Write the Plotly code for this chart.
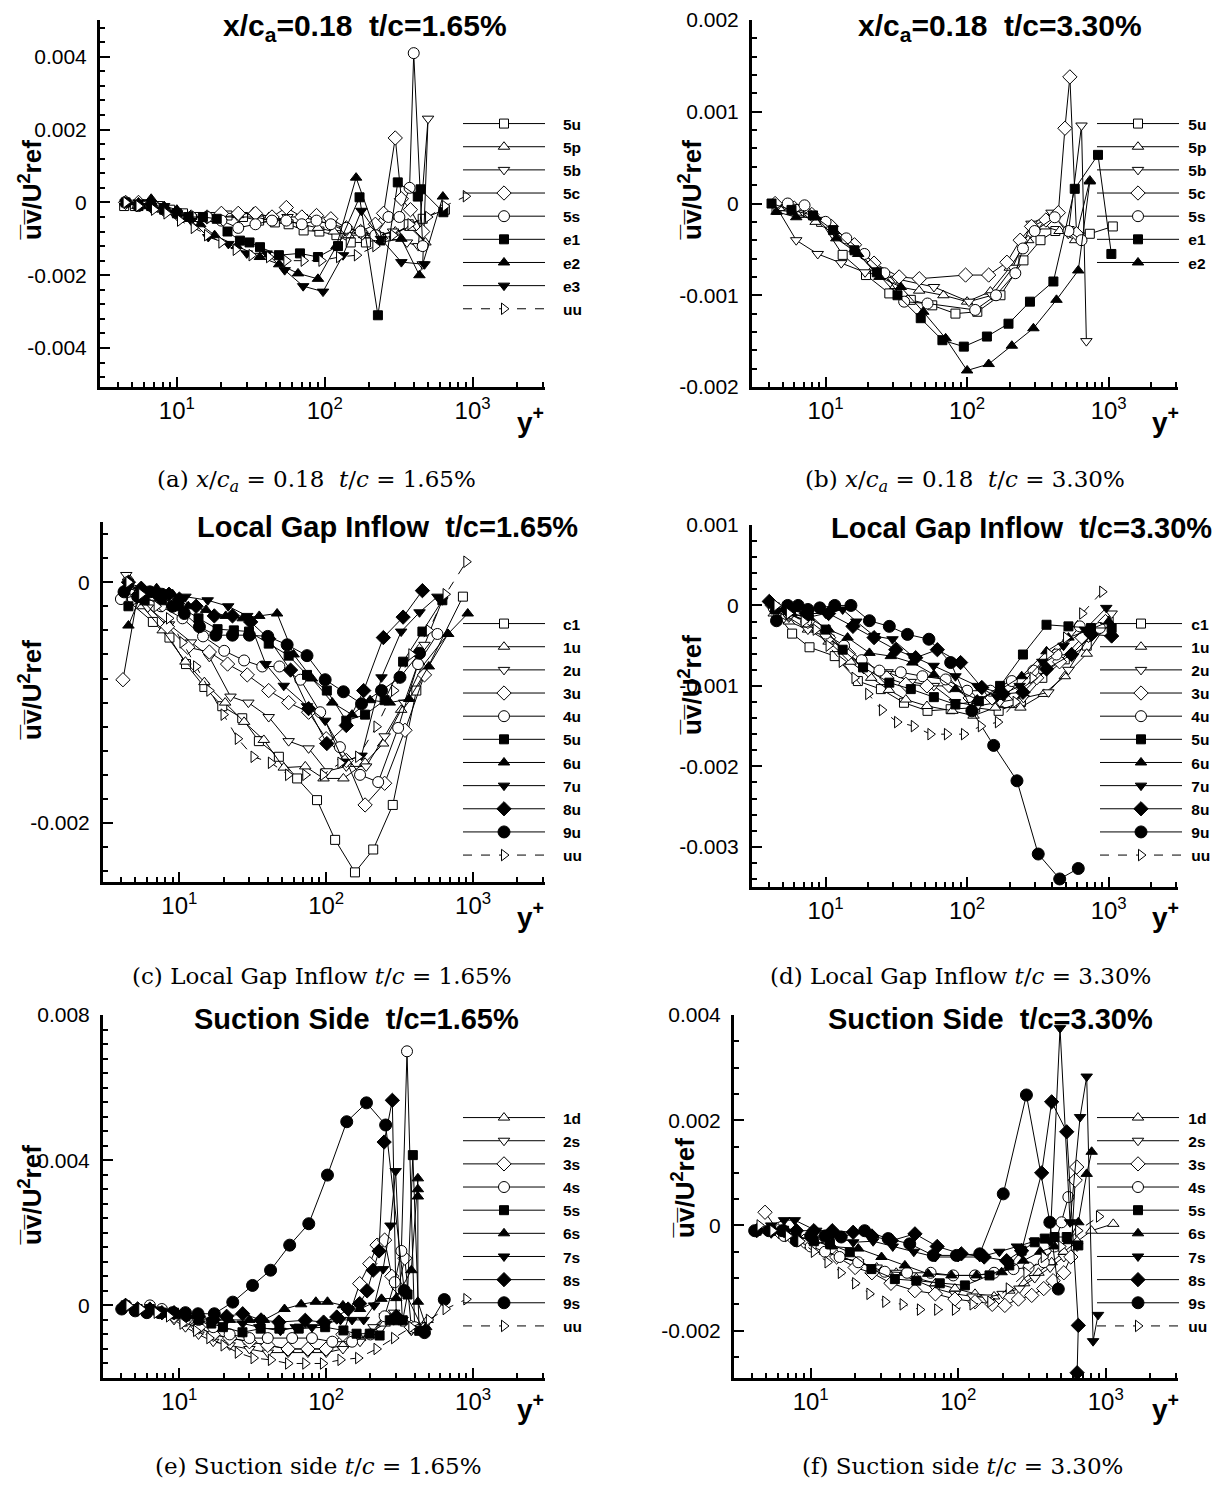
import plotly.graph_objects as go

W, H = 1225, 1491
OFF = 8  # page margin of the html body

# ---------------- shared reference profile ----------------
uu_x = [4.5, 5.5, 7, 8.5, 10.5, 13, 16, 20, 25, 32, 42, 55, 72, 95, 125, 165, 220, 290, 380, 500, 650, 900]
uu_y = [0, -0.0001, -0.0002, -0.0003, -0.0005, -0.0007, -0.0009, -0.0011, -0.0013, -0.00145, -0.0015, -0.0016,
        -0.0016, -0.0016, -0.0015, -0.00145, -0.0012, -0.0009, -0.0006, -0.0004, -0.0001, 0.00017]

# ---------------- panel (a) ----------------
a_5u_x = [4.4, 5.2, 6.2, 7.5, 9.0, 11, 13.5, 17, 22, 28, 36, 46, 57, 72, 92, 120, 150, 190, 240, 300, 370, 460, 650]
a_5u_y = [-0.0001, -0.0001, -0.00005, -0.0001, -0.0002, -0.0003, -0.0004, -0.0004, -0.00036, -0.0004, -0.0005,
          -0.00055, -0.0006, -0.00077, -0.0008, -0.0009, -0.0011, -0.0011, -0.0010, -0.0009, -0.0006, -0.00045, -0.0002]
a_5p_x = [4.5, 5.4, 6.5, 8, 10, 12.5, 16, 20, 26, 33, 42, 55, 70, 90, 115, 145, 185, 235, 300, 380, 480]
a_5p_y = [0, -0.0001, -0.0001, -0.0002, -0.0003, -0.0004, -0.0004, -0.0004, -0.00035, -0.00027, -0.0004, -0.0005,
          -0.0006, -0.0007, -0.0008, -0.0009, -0.0009, -0.0009, -0.0008, -0.0007, -0.0011]
a_5b_x = [4.5, 5.5, 6.7, 8.2, 10, 12.5, 16, 20, 26, 34, 44, 56, 70, 88, 110, 140, 180, 230, 290, 360, 430, 500, 460]
a_5b_y = [0, -0.0001, -0.0001, -0.0002, -0.0003, -0.0004, -0.0004, -0.0004, -0.0004, -0.0004, -0.0005, -0.0004,
          -0.0004, -0.0005, -0.0006, -0.0008, -0.0009, -0.0009, -0.0008, -0.0011, -0.0012, 0.0023, -0.0017]
a_5c_x = [4.5, 5.5, 6.7, 8.2, 10, 12.5, 16, 20, 26, 34, 44, 55, 70, 88, 110, 140, 175, 220, 250, 300, 330, 380, 460]
a_5c_y = [0, 0, -0.0001, -0.0002, -0.0003, -0.0004, -0.0004, -0.0003, -0.0003, -0.0003, -0.0004, -0.00014,
          -0.0004, -0.00036, -0.00045, -0.0007, -0.0008, -0.0006, -0.0003, 0.00177, 0.0001, -0.0002, -0.0008]
a_5s_x = [4.5, 5.5, 6.7, 8.2, 10, 12.5, 16, 20, 26, 34, 44, 55, 70, 88, 110, 140, 175, 220, 270, 320, 375, 400, 460]
a_5s_y = [0, -0.0001, -0.0001, -0.0002, -0.0003, -0.0004, -0.0004, -0.0005, -0.0007, -0.0006, -0.0005, -0.0005,
          -0.0006, -0.0005, -0.0006, -0.0007, -0.0008, -0.0009, -0.0004, -0.0004, 0.0004, 0.0041, -0.0012]
a_e1_x = [4.5, 5.5, 6.7, 8.2, 10, 12, 15, 18.6, 22, 26.7, 31, 36.5, 49, 68, 90, 123, 172, 229, 312, 426, 445, 635]
a_e1_y = [0, -0.0001, -0.0001, -0.0002, -0.0003, -0.0004, -0.0004, -0.00045, -0.0008, -0.00105, -0.0011, -0.00123,
          -0.00145, -0.0014, -0.0015, -0.0012, 0.00014, -0.0031, 0.00055, 0.00016, 0.00036, -0.00027]
a_e2_x = [4.5, 5.5, 6.7, 8.2, 10, 12, 14.4, 18, 25.4, 36.4, 49.2, 66, 90, 120, 163, 234, 330, 437, 630]
a_e2_y = [0, 0, 0.0001, -0.0001, -0.0002, -0.0004, -0.0006, -0.0009, -0.0012, -0.0015, -0.0017, -0.00195, -0.0021,
          -0.0012, 0.00068, -0.0011, -0.0010, -0.0020, 0.00016]
a_e3_x = [4.5, 5.5, 6.7, 8.2, 10, 12.5, 16.3, 22.3, 29.7, 40.5, 53.6, 71.5, 97.4, 133, 177, 240, 330, 473]
a_e3_y = [0, 0, -0.0001, -0.0001, -0.0003, -0.0005, -0.00095, -0.00114, -0.0014, -0.0014, -0.00186, -0.0023,
          -0.00245, -0.00145, -0.00023, -0.0010, -0.00164, -0.0017]

# ---------------- panel (b) ----------------
b_5u_x = [4.5, 6.5, 9.3, 13.2, 19.3, 28.2, 40, 56.7, 82.7, 118, 172, 250, 330, 420, 530, 736, 1070]
b_5u_y = [-0.00007, -0.0001, -0.0002, -0.00056, -0.00078, -0.00098, -0.00105, -0.00111, -0.0012, -0.00118, -0.001,
          -0.00062, -0.0004, -0.0003, -0.0003, -0.00033, -0.00025]
b_5p_x = [4.7, 6.2, 8.5, 11.5, 16, 22, 31, 45.8, 68, 100, 146, 200, 270, 350, 450, 580, 736]
b_5p_y = [-0.00005, -0.0001, -0.0002, -0.0003, -0.0005, -0.0007, -0.0009, -0.00095, -0.001, -0.00107, -0.00096,
          -0.0007, -0.0004, -0.00025, -0.0003, -0.0004, 0.00025]
b_5b_x = [4.5, 6.2, 8.8, 12.9, 19, 31.4, 58.3, 103, 150, 210, 285, 395, 518, 643, 696]
b_5b_y = [-0.00004, -0.0004, -0.00055, -0.00065, -0.00075, -0.00082, -0.00091, -0.00107, -0.001, -0.0007,
          -0.00022, -0.0001, -0.00033, 0.00085, -0.0015]
b_5c_x = [4.4, 6, 8, 11, 16, 22, 33.1, 45.9, 97.5, 142, 191, 237, 285, 360, 441, 491, 532, 593]
b_5c_y = [0, -0.00005, -0.00012, -0.00025, -0.00045, -0.00065, -0.0008, -0.00082, -0.00078, -0.00078, -0.00064,
          -0.0004, -0.00025, -0.00018, -0.0001, 0.00082, 0.00138, -0.00033]
b_5s_x = [5.4, 7.1, 10, 14, 18.8, 26, 35.9, 52.5, 114, 160, 219, 248, 300, 416, 520, 643]
b_5s_y = [0, -0.00002, -0.0002, -0.00038, -0.00055, -0.00076, -0.00107, -0.00109, -0.00116, -0.001, -0.00076,
          -0.00049, -0.0003, -0.00015, -0.0003, -0.0004]
b_e1_x = [4.15, 5.74, 8.15, 11.3, 16, 23, 32.2, 47, 66.9, 94.8, 138, 196, 278, 407, 576, 841, 1045]
b_e1_y = [0, -0.00007, -0.00013, -0.00029, -0.00051, -0.00075, -0.001, -0.00125, -0.00149, -0.00156, -0.00145,
          -0.00131, -0.00107, -0.00085, 0.00016, 0.00053, -0.00055]
b_e2_x = [4.5, 6.2, 8.5, 11.9, 17, 24, 34, 49, 70.5, 100, 142, 207, 294, 428, 610, 736]
b_e2_y = [-0.00009, -0.00015, -0.00015, -0.00038, -0.00055, -0.0008, -0.00091, -0.00118, -0.00147, -0.00182,
          -0.00175, -0.00155, -0.00136, -0.00105, -0.00073, 0.00024]

# ---------------- panel (c) ----------------
c_c1_x = [4.13, 6.6, 8.56, 11.1, 14.8, 19.6, 26.8, 34.8, 47.6, 63.4, 86.6, 115, 157, 209, 284, 411, 853]
c_c1_y = [-0.00012, -0.00033, -0.00046, -0.00068, -0.00087, -0.00103, -0.00113, -0.00132, -0.00145, -0.00163,
          -0.00181, -0.00214, -0.00241, -0.00222, -0.00185, -0.0009, -0.00012]
c_1u_x = [4.47, 5.6, 7.7, 11, 14.8, 20.5, 27.6, 37.6, 51.4, 72, 95.9, 131, 184, 244, 324, 450, 675]
c_1u_y = [0.00004, -0.0002, -0.0004, -0.00066, -0.00083, -0.001, -0.00116, -0.00131, -0.00154, -0.00153, -0.00163,
          -0.00163, -0.0015, -0.00134, -0.00106, -0.0007, -0.00043]
c_2u_x = [4.35, 6.1, 8.5, 12, 16, 22.3, 29.5, 40.6, 55.5, 75.9, 101, 137, 187, 250, 340, 467, 618]
c_2u_y = [0.00006, -0.00021, -0.00035, -0.0005, -0.00062, -0.00095, -0.001, -0.00112, -0.00132, -0.00138, -0.00157,
          -0.00153, -0.00153, -0.00128, -0.001, -0.00052, -0.00015]
c_3u_x = [4.13, 5.2, 8.3, 11.4, 16, 21.3, 29, 40.6, 55.5, 75.9, 100, 137, 184, 250, 344, 467]
c_3u_y = [-0.00081, -0.00011, -0.00037, -0.00054, -0.00058, -0.00068, -0.00077, -0.0009, -0.001, -0.00108, -0.0013,
          -0.00148, -0.00185, -0.00167, -0.00123, -0.00077]
c_4u_x = [4.0, 5.5, 7.5, 10.5, 14.5, 20.2, 27.6, 36.7, 48, 66.7, 91, 124, 170, 226, 309, 422, 572]
c_4u_y = [-0.00014, -0.0001, -0.0002, -0.0003, -0.00045, -0.00057, -0.00065, -0.0007, -0.0007, -0.00081, -0.00108,
          -0.00137, -0.0016, -0.00166, -0.00121, -0.00068, -0.00043]
c_5u_x = [4.5, 5.8, 7.6, 10, 13.5, 18.2, 23.5, 29.8, 40.6, 55.5, 74, 101, 137, 184, 250, 334, 452, 618]
c_5u_y = [-0.0002, -0.00015, -0.00015, -0.0002, -0.0003, -0.00039, -0.0004, -0.00041, -0.00051, -0.00061, -0.00077,
          -0.0009, -0.00115, -0.0011, -0.00098, -0.00066, -0.00041, -0.00015]
c_6u_x = [4.5, 5.5, 7, 9, 11.5, 15.2, 20.7, 27, 35, 46.3, 60, 80, 110, 150, 199, 271, 367, 500, 675, 920]
c_6u_y = [-0.00036, -0.0001, -0.00005, -0.0001, -0.0002, -0.00023, -0.00028, -0.0003, -0.00028, -0.00026, -0.0006,
          -0.0008, -0.001, -0.0011, -0.00098, -0.001, -0.00097, -0.0007, -0.00043, -0.00026]
c_7u_x = [4.5, 6, 8, 11, 15.6, 21.5, 29, 38.7, 51.4, 74, 98.4, 131, 174, 238, 324, 432, 572]
c_7u_y = [-0.00005, -0.0001, -0.0001, -0.00012, -0.00015, -0.0002, -0.00028, -0.00068, -0.00086, -0.00103,
          -0.00115, -0.00149, -0.00144, -0.00079, -0.00041, -0.00025, -0.00012]
c_8u_x = [4.5, 5.5, 7, 8.5, 10, 13, 17.3, 23, 30.6, 40.6, 57.2, 75.9, 101, 137, 180, 245, 334, 452]
c_8u_y = [0, -0.00005, -0.0001, -0.0001, -0.00014, -0.0002, -0.00028, -0.00028, -0.00033, -0.00047, -0.00073,
          -0.00105, -0.00134, -0.00119, -0.0009, -0.00046, -0.00029, -0.00007]
c_9u_x = [4.2, 5.2, 6.3, 7.6, 9, 10.8, 13.7, 17.7, 23, 30, 40, 54.2, 74, 98.4, 131, 174, 238, 318, 432]
c_9u_y = [-0.00008, -0.00012, -0.00008, -0.0001, -0.0002, -0.00026, -0.00037, -0.00044, -0.00044, -0.00044,
          -0.00045, -0.00052, -0.00061, -0.00081, -0.00091, -0.00101, -0.0009, -0.00079, -0.00059]

# ---------------- panel (d) ----------------
d_c1_x = [4.5, 5.8, 7.7, 11.6, 16.9, 24.6, 35.8, 52.5, 76.5, 114, 167, 240, 340, 490, 700, 1000]
d_c1_y = [-0.0001, -0.00035, -0.00052, -0.00063, -0.00094, -0.00104, -0.00121, -0.00131, -0.00129, -0.00127,
          -0.00131, -0.0012, -0.0009, -0.00067, -0.0005, -0.0002]
d_1u_x = [4.3, 5.5, 7.5, 10.5, 15, 21, 28, 36.9, 52, 78.6, 111, 158, 238, 348, 490, 700, 1000]
d_1u_y = [-0.0001, -0.0002, -0.0003, -0.00045, -0.0007, -0.0009, -0.00105, -0.00117, -0.00125, -0.00131, -0.00137,
          -0.00127, -0.00127, -0.0011, -0.00088, -0.0006, -0.0002]
d_2u_x = [4.3, 5.5, 7.5, 10.5, 13.5, 18.6, 27.4, 40, 58.2, 82, 118, 170, 250, 375, 520, 720, 1050]
d_2u_y = [-0.00005, -0.00015, -0.0003, -0.0004, -0.00055, -0.00079, -0.00083, -0.00095, -0.001, -0.0012, -0.00125,
          -0.0012, -0.00115, -0.00108, -0.0008, -0.0004, -0.0001]
d_3u_x = [4.2, 5.5, 7.5, 10.5, 14.5, 20, 27, 36.9, 52, 75, 105, 150, 215, 310, 450, 650, 950]
d_3u_y = [0.0, -0.0001, -0.0002, -0.0004, -0.0006, -0.0008, -0.0009, -0.00098, -0.0010, -0.0010, -0.00115,
          -0.00115, -0.0011, -0.0009, -0.0007, -0.0004, -0.0002]
d_4u_x = [4.3, 5.5, 7.3, 10, 13.5, 18, 24, 34, 48.3, 70.5, 100, 146, 207, 294, 428, 625, 866]
d_4u_y = [-0.00003, -0.0001, -0.0002, -0.00035, -0.0005, -0.00068, -0.00081, -0.00083, -0.00088, -0.00092,
          -0.00106, -0.00106, -0.00094, -0.00081, -0.00061, -0.00026, -0.00028]
d_5u_x = [4.4, 5.7, 7.6, 10, 13.2, 18.4, 28.2, 40, 58.2, 82.7, 121, 171, 248, 364, 520, 750, 1050]
d_5u_y = [-0.00005, -0.00005, -0.0001, -0.0003, -0.00055, -0.00077, -0.00096, -0.00104, -0.00114, -0.00123,
          -0.00119, -0.001, -0.00061, -0.00024, -0.00026, -0.00028, -0.00028]
d_6u_x = [4.4, 5.7, 7.6, 10.5, 14.3, 20.4, 28.9, 41, 58.2, 82.7, 118, 167, 243, 364, 520, 740, 1000]
d_6u_y = [-0.00005, -0.0001, -0.00015, -0.0003, -0.0004, -0.00059, -0.00063, -0.00071, -0.00086, -0.00104,
          -0.00117, -0.00106, -0.00088, -0.00057, -0.0004, -0.0003, -0.0002]
d_7u_x = [4.3, 5.5, 7.5, 10, 13.2, 16.5, 22.1, 29.7, 41, 58, 82.7, 118, 163, 235, 340, 480, 679, 962]
d_7u_y = [0, -0.0001, -0.00015, -0.0001, -0.00005, -0.0002, -0.00038, -0.00042, -0.00063, -0.00075, -0.00088,
          -0.001, -0.00114, -0.001, -0.0007, -0.0005, -0.0003, -0.00003]
d_8u_x = [4.0, 5.3, 7.3, 10.5, 15.6, 22, 31.3, 43.3, 61.6, 89.9, 127, 180, 248, 364, 547, 755, 1050]
d_8u_y = [0.00005, -0.00005, -0.0001, -0.0001, -0.00026, -0.0004, -0.00055, -0.00065, -0.00055, -0.00071,
          -0.00102, -0.0011, -0.00108, -0.00079, -0.00061, -0.00036, -0.00038]
d_9u_x = [4.5, 5.4, 6.4, 7.5, 9.1, 11.6, 15.1, 20.4, 28.2, 37.9, 53.7, 76.5, 108, 154, 225, 318, 451, 610]
d_9u_y = [-0.00019, 0, 0, -0.00005, -0.00003, 0, 0, -0.00019, -0.00026, -0.00036, -0.00042, -0.00071, -0.00131,
          -0.00174, -0.00218, -0.00309, -0.0034, -0.00327]

# ---------------- panel (e) ----------------
e_1d_x = [4.3, 5.2, 6.3, 7.6, 9.2, 11, 13.5, 17, 22, 30, 40, 55, 75, 100, 130, 170, 210, 250, 300, 350, 420, 490]
e_1d_y = [0, -0.0001, -0.0001, -0.0002, -0.0003, -0.0005, -0.0006, -0.0008, -0.0009, -0.001, -0.0011, -0.0012,
          -0.0012, -0.0012, -0.0011, -0.0009, -0.0007, -0.0005, -0.0004, -0.0005, -0.0006, -0.0004]
e_2s_x = [4.3, 5.2, 6.3, 7.6, 9.2, 11, 13.5, 17, 22, 30, 40, 55, 75, 100, 130, 170, 210, 250, 290, 330, 380]
e_2s_y = [0, -0.0001, -0.0001, -0.0002, -0.0004, -0.0006, -0.0008, -0.001, -0.0011, -0.0012, -0.0013, -0.0013,
          -0.0013, -0.0013, -0.0012, -0.0010, -0.0006, -0.0003, -0.0002, -0.0004, -0.0007]
e_3s_x = [4.3, 5.2, 6.3, 7.6, 9.2, 11, 13.5, 17, 22, 30, 40, 55, 75, 100, 130, 169, 198, 222, 250, 280, 310, 343, 380]
e_3s_y = [0, -0.0001, -0.0001, -0.0002, -0.0003, -0.0004, -0.0006, -0.0008, -0.0009, -0.0010, -0.0011, -0.0012,
          -0.0012, -0.0012, -0.0008, 0.0006, 0.00115, 0.00166, 0.0018, 0.0008, 0.0005, 0.0013, -0.0006]
e_4s_x = [4.3, 5.2, 6.3, 7.6, 9.2, 11, 13.5, 17, 22, 30, 40, 58.6, 80, 110, 150, 200, 250, 293, 325, 355, 400]
e_4s_y = [0, -0.0001, 0, -0.0001, -0.0002, -0.0003, -0.0004, -0.0006, -0.0008, -0.0009, -0.0009, -0.0009, -0.0009,
          -0.0010, -0.0010, -0.0008, -0.0003, 0.00064, 0.0015, 0.0070, -0.0006]
e_5s_x = [4.3, 5.2, 6.3, 7.6, 9.2, 11, 13.5, 16.5, 19.8, 26.9, 35.8, 48, 65, 98.4, 131, 161, 198, 231, 271, 306,
          332, 358, 389, 430]
e_5s_y = [0, -0.0001, -0.0001, -0.0002, -0.0002, -0.0003, -0.0004, -0.0005, -0.0006, -0.00074, -0.00064, -0.00064,
          -0.00064, -0.0006, -0.00069, -0.00078, -0.00078, -0.00083, -0.00041, -0.00041, -0.00041, 0.0003, 0.00414,
          -0.0007]
e_6s_x = [4.3, 5.2, 6.3, 7.6, 9.2, 11, 13.5, 17, 22, 30, 37.7, 52, 67.5, 85, 102, 130, 170, 238, 300, 380, 421,
          421, 421, 421, 480]
e_6s_y = [0, -0.0001, -0.0001, -0.0002, -0.0003, -0.0003, -0.0004, -0.0004, -0.0004, -0.0004, -0.0004, -0.0001,
          0.00003, 0.0001, 0.0001, 0.0, -0.0001, 0.00018, 0.0002, 0.00097, 0.0035, 0.0032, 0.003, 0.0001, -0.0006]
e_7s_x = [4.3, 5.2, 6.3, 7.6, 9.2, 11, 13.5, 17, 21, 27, 35, 48.8, 62, 80, 100, 125, 150, 180, 212, 244, 274, 297, 330]
e_7s_y = [0, -0.0001, -0.0001, -0.0002, -0.0002, -0.0003, -0.0003, -0.0004, -0.0004, -0.0005, -0.0006, -0.0007,
          -0.0006, -0.0006, -0.0005, -0.0004, -0.0004, -0.0004, 0, 0.001, 0.0022, 0.0037, -0.0004]
e_8s_x = [4.3, 5.2, 6.3, 7.6, 9.2, 11, 13.5, 17, 21, 27, 36, 47.6, 72, 96, 118, 141, 169, 190, 209, 229, 248, 282, 300]
e_8s_y = [0, -0.0001, -0.0001, -0.0002, -0.0002, -0.0003, -0.0003, -0.0004, -0.0003, -0.00023, -0.0004, -0.00046,
          -0.00041, -0.00046, -0.00032, -0.0001, 0.00005, 0.0004, 0.00097, 0.0015, 0.0045, 0.00565, -0.0003]
e_9s_x = [4.05, 5, 6, 7.3, 9, 11, 13.4, 17.3, 23.1, 31.5, 41.8, 56.4, 76.1, 102, 138, 188, 254, 340, 467, 637]
e_9s_y = [-0.0001, -0.00015, -0.0002, -0.0002, -0.0002, -0.0002, -0.00023, -0.00023, 0.00009, 0.00055, 0.00097,
          0.00166, 0.00225, 0.00359, 0.00506, 0.00558, 0.00497, 0.00041, -0.00075, 0.00016]

# ---------------- panel (f) ----------------
f_1d_x = [4.3, 5.4, 6.6, 8, 10, 12.5, 16, 21, 28, 38, 52, 70, 95, 130, 175, 222, 280, 350, 430, 520, 640, 800, 1125]
f_1d_y = [-0.0001, -0.0001, -0.0002, -0.0003, -0.0004, -0.0005, -0.0006, -0.0007, -0.0008, -0.0009, -0.001,
          -0.0011, -0.0012, -0.0013, -0.00135, -0.00124, -0.0011, -0.0009, -0.0007, -0.0005, -0.0003, -0.0001, 0.00003]
f_2s_x = [4.3, 5.4, 6.6, 8, 10, 12.5, 16, 21, 28, 38, 52, 70, 95, 125, 156, 200, 260, 330, 420, 520, 640]
f_2s_y = [-0.0001, -0.00015, -0.0002, -0.0003, -0.0004, -0.0005, -0.0006, -0.0007, -0.0008, -0.0009, -0.00105,
          -0.0012, -0.0013, -0.00135, -0.00137, -0.0013, -0.0012, -0.001, -0.0008, -0.0006, -0.0004]
f_3s_x = [4.9, 6, 7.3, 9, 11.5, 15, 20, 26, 35, 50.8, 70, 95, 130, 170, 207, 256, 315, 380, 440, 520, 580, 621, 636]
f_3s_y = [0.00025, -0.0001, -0.0002, -0.0003, -0.0004, -0.0006, -0.0008, -0.0009, -0.0011, -0.00124, -0.0013,
          -0.0014, -0.00145, -0.0015, -0.00152, -0.0014, -0.00133, -0.0012, -0.00105, -0.0009, -0.0006, 0.00086, 0.00111]
f_4s_x = [4.3, 5.4, 6.6, 8, 10, 12.5, 15.7, 21, 31.8, 45, 65, 92.5, 130, 175, 237, 300, 380, 450, 502, 558]
f_4s_y = [-0.0001, -0.0001, -0.0002, -0.0003, -0.0004, -0.0005, -0.0006, -0.0007, -0.00088, -0.0009, -0.0009,
          -0.00095, -0.00095, -0.0009, -0.00083, -0.0008, -0.0007, -0.0004, 0.00006, 0.00054]
f_5s_x = [4.3, 5.4, 6.6, 8, 10.5, 13.5, 18.4, 25.8, 37.2, 52, 75, 111, 163, 222, 269, 330, 386, 450, 544, 652]
f_5s_y = [-0.0001, -0.0001, -0.0001, -0.0002, -0.0003, -0.00035, -0.00051, -0.00083, -0.00102, -0.00105, -0.0011,
          -0.00114, -0.00095, -0.00076, -0.00048, -0.00032, -0.00025, -0.00022, -0.00022, -0.00038]
f_6s_x = [4.3, 5.4, 6.6, 8, 10.5, 14, 21, 30.2, 43.5, 62.6, 90, 133, 197, 276, 360, 450, 560, 652, 743, 803]
f_6s_y = [-0.0001, -0.0001, -0.0001, -0.0002, -0.0003, -0.0004, -0.00044, -0.0006, -0.00076, -0.00092, -0.00095,
          -0.00095, -0.00089, -0.00067, -0.0005, -0.0004, -0.0003, 0.00006, 0.00098, 0.0014]
f_7s_x = [4.3, 5.4, 6.6, 7.8, 10.9, 14, 19.4, 26.5, 36, 50, 70, 100, 140, 190, 250, 330, 420, 490, 573, 670, 743,
          821, 887]
f_7s_y = [-0.0001, 0, 0.0001, 0.0001, -0.0001, -0.0002, -0.00032, -0.0003, -0.0004, -0.0005, -0.0006, -0.0006,
          -0.0006, -0.0005, -0.0004, -0.0003, -0.0003, 0.00375, 0.00006, 0.00206, 0.00283, -0.0022, -0.0017]
f_8s_x = [4.3, 5.4, 6.6, 8, 10.5, 14, 19.4, 26, 35.2, 50.9, 72, 105, 150, 213, 269, 368, 430, 544, 652, 640]
f_8s_y = [-0.0001, -0.0001, -0.0001, -0.0001, -0.0001, -0.0001, -0.00013, -0.0002, -0.00029, -0.00016, -0.0004,
          -0.00054, -0.0006, -0.00067, -0.00048, 0.001, 0.00235, 0.00178, -0.0019, -0.0028]
f_9s_x = [4.17, 5.2, 6.4, 8, 10, 12.5, 16.1, 23.2, 33.5, 46.9, 67.8, 97.3, 140, 202, 290, 418, 477]
f_9s_y = [-0.0001, -0.0001, -0.0001, -0.00029, -0.0002, -0.0002, -0.00022, -0.0001, -0.00025, -0.00035, -0.00057,
          -0.00057, -0.00054, 0.0006, 0.00248, 0.00006, -0.00121]

# ---------------- text ----------------
titles = ["x/c<sub>a</sub>=0.18\u00a0\u00a0t/c=1.65%", "x/c<sub>a</sub>=0.18\u00a0\u00a0t/c=3.30%",
          "Local Gap Inflow\u00a0\u00a0t/c=1.65%", "Local Gap Inflow\u00a0\u00a0t/c=3.30%",
          "Suction Side\u00a0\u00a0t/c=1.65%", "Suction Side\u00a0\u00a0t/c=3.30%"]
captions = ["(a) <i>x</i>/<i>c<sub>a</sub></i> = 0.18\u00a0\u00a0<i>t</i>/<i>c</i> = 1.65%",
            "(b) <i>x</i>/<i>c<sub>a</sub></i> = 0.18\u00a0\u00a0<i>t</i>/<i>c</i> = 3.30%",
            "(c) Local Gap Inflow <i>t</i>/<i>c</i> = 1.65%",
            "(d) Local Gap Inflow <i>t</i>/<i>c</i> = 3.30%",
            "(e) Suction side <i>t</i>/<i>c</i> = 1.65%",
            "(f) Suction side <i>t</i>/<i>c</i> = 3.30%"]
ylabel = "<b>u\u0305v\u0305/U<sup>2</sup>ref</b>"

a_ticks = [-0.004, -0.002, 0, 0.002, 0.004]
a_text = ["-0.004", "-0.002", "0", "0.002", "0.004"]
b_ticks = [-0.002, -0.001, 0, 0.001, 0.002]
b_text = ["-0.002", "-0.001", "0", "0.001", "0.002"]
c_ticks = [-0.002, 0]
c_text = ["-0.002", "0"]
d_ticks = [-0.003, -0.002, -0.001, 0, 0.001]
d_text = ["-0.003", "-0.002", "-0.001", "0", "0.001"]
e_ticks = [0, 0.004, 0.008]
e_text = ["0", "0.004", "0.008"]
f_ticks = [-0.002, 0, 0.002, 0.004]
f_text = ["-0.002", "0", "0.002", "0.004"]

# ---------------- styles ----------------
STYLE = {
    'osq': dict(symbol='square', color='white', size=9),
    'otu': dict(symbol='triangle-up', color='white', size=10),
    'otd': dict(symbol='triangle-down', color='white', size=10),
    'odi': dict(symbol='diamond', color='white', size=11),
    'oci': dict(symbol='circle', color='white', size=11),
    'fsq': dict(symbol='square', color='black', size=9),
    'ftu': dict(symbol='triangle-up', color='black', size=10),
    'ftd': dict(symbol='triangle-down', color='black', size=10),
    'fdi': dict(symbol='diamond', color='black', size=11),
    'fci': dict(symbol='circle', color='black', size=12),
    'otr': dict(symbol='triangle-right', color='white', size=10),
}

GAP_L = "\u00a0\u00a0\u00a0"
GAP_R = "\u00a0"

PANELS = [
    dict(box=(100, 545, 20, 387), yr=[-0.00507, 0.00501], ticks=(a_ticks, a_text), minor=0.0004,
         leg=(458, 107), gap=GAP_L, title=(221, 27, 30), yl=(30, 190), yp=(530, 420), cap=(316, 481),
         series=[("5u", a_5u_x, a_5u_y, 'osq'), ("5p", a_5p_x, a_5p_y, 'otu'), ("5b", a_5b_x, a_5b_y, 'otd'),
                 ("5c", a_5c_x, a_5c_y, 'odi'), ("5s", a_5s_x, a_5s_y, 'oci'), ("e1", a_e1_x, a_e1_y, 'fsq'),
                 ("e2", a_e2_x, a_e2_y, 'ftu'), ("e3", a_e3_x, a_e3_y, 'ftd'), ("uu", uu_x, uu_y, 'otr')]),
    dict(box=(752, 1178, 20, 387), yr=[-0.002, 0.002], ticks=(b_ticks, b_text), minor=0.0002,
         leg=(1092, 107), gap=GAP_R, title=(856, 27, 30), yl=(690, 190), yp=(1165, 420), cap=(965, 481),
         series=[("5u", b_5u_x, b_5u_y, 'osq'), ("5p", b_5p_x, b_5p_y, 'otu'), ("5b", b_5b_x, b_5b_y, 'otd'),
                 ("5c", b_5c_x, b_5c_y, 'odi'), ("5s", b_5s_x, b_5s_y, 'oci'), ("e1", b_e1_x, b_e1_y, 'fsq'),
                 ("e2", b_e2_x, b_e2_y, 'ftu')]),
    dict(box=(103, 545, 522, 882), yr=[-0.00249, 0.0005], ticks=(c_ticks, c_text), minor=0.0002,
         leg=(458, 607), gap=GAP_L, title=(195, 527, 29), yl=(30, 690), yp=(530, 915), cap=(322, 976),
         series=[("c1", c_c1_x, c_c1_y, 'osq'), ("1u", c_1u_x, c_1u_y, 'otu'), ("2u", c_2u_x, c_2u_y, 'otd'),
                 ("3u", c_3u_x, c_3u_y, 'odi'), ("4u", c_4u_x, c_4u_y, 'oci'), ("5u", c_5u_x, c_5u_y, 'fsq'),
                 ("6u", c_6u_x, c_6u_y, 'ftu'), ("7u", c_7u_x, c_7u_y, 'ftd'), ("8u", c_8u_x, c_8u_y, 'fdi'),
                 ("9u", c_9u_x, c_9u_y, 'fci'), ("uu", uu_x, uu_y, 'otr')]),
    dict(box=(752, 1178, 525, 887), yr=[-0.0035, 0.001], ticks=(d_ticks, d_text), minor=0.0002,
         leg=(1095, 607), gap=GAP_R, title=(829, 528, 29), yl=(690, 685), yp=(1165, 915), cap=(960, 976),
         series=[("c1", d_c1_x, d_c1_y, 'osq'), ("1u", d_1u_x, d_1u_y, 'otu'), ("2u", d_2u_x, d_2u_y, 'otd'),
                 ("3u", d_3u_x, d_3u_y, 'odi'), ("4u", d_4u_x, d_4u_y, 'oci'), ("5u", d_5u_x, d_5u_y, 'fsq'),
                 ("6u", d_6u_x, d_6u_y, 'ftu'), ("7u", d_7u_x, d_7u_y, 'ftd'), ("8u", d_8u_x, d_8u_y, 'fdi'),
                 ("9u", d_9u_x, d_9u_y, 'fci'), ("uu", uu_x, uu_y, 'otr')]),
    dict(box=(103, 545, 1015, 1378), yr=[-0.002, 0.008], ticks=(e_ticks, e_text), minor=0.0004,
         leg=(458, 1101), gap=GAP_L, title=(192, 1019, 29), yl=(30, 1195), yp=(530, 1407), cap=(318, 1466),
         series=[("1d", e_1d_x, e_1d_y, 'otu'), ("2s", e_2s_x, e_2s_y, 'otd'), ("3s", e_3s_x, e_3s_y, 'odi'),
                 ("4s", e_4s_x, e_4s_y, 'oci'), ("5s", e_5s_x, e_5s_y, 'fsq'), ("6s", e_6s_x, e_6s_y, 'ftu'),
                 ("7s", e_7s_x, e_7s_y, 'ftd'), ("8s", e_8s_x, e_8s_y, 'fdi'), ("9s", e_9s_x, e_9s_y, 'fci'),
                 ("uu", uu_x, uu_y, 'otr')]),
    dict(box=(734, 1178, 1015, 1378), yr=[-0.0029, 0.004], ticks=(f_ticks, f_text), minor=0.0005,
         leg=(1092, 1101), gap=GAP_R, title=(826, 1019, 29), yl=(683, 1188), yp=(1165, 1407), cap=(962, 1466),
         series=[("1d", f_1d_x, f_1d_y, 'otu'), ("2s", f_2s_x, f_2s_y, 'otd'), ("3s", f_3s_x, f_3s_y, 'odi'),
                 ("4s", f_4s_x, f_4s_y, 'oci'), ("5s", f_5s_x, f_5s_y, 'fsq'), ("6s", f_6s_x, f_6s_y, 'ftu'),
                 ("7s", f_7s_x, f_7s_y, 'ftd'), ("8s", f_8s_x, f_8s_y, 'fdi'), ("9s", f_9s_x, f_9s_y, 'fci'),
                 ("uu", uu_x, uu_y, 'otr')]),
]

SANS = "Liberation Sans, Arial, Helvetica, sans-serif"
SERIF = "DejaVu Serif, Liberation Serif, serif"

FW, FH = W - 2 * OFF, H - 2 * OFF


def px(v):
    return (v - OFF) / FW


def py(v):
    return 1 - (v - OFF) / FH


x_minor_vals = [m * 10 ** d for d in range(0, 4) for m in range(2, 10)]

fig = go.Figure()
layout = dict(width=FW, height=FH, margin=dict(l=0, r=0, t=0, b=0, autoexpand=False), paper_bgcolor='white',
              plot_bgcolor='white', showlegend=True, font=dict(family=SANS, color='black'))
annotations = []

for i, p in enumerate(PANELS, start=1):
    sfx = '' if i == 1 else str(i)
    xa, ya, lg = 'x' + sfx, 'y' + sfx, 'legend' + sfx
    for name, xs, ys, st in p['series']:
        s = STYLE[st]
        fig.add_trace(go.Scatter(
            x=xs, y=ys, mode='lines+markers', name=p['gap'] + name, xaxis=xa, yaxis=ya, legend=lg,
            line=dict(color='black', width=1, dash='dash' if st == 'otr' else 'solid'),
            marker=dict(symbol=s['symbol'], size=s['size'], color=s['color'],
                        line=dict(color='black', width=1)),
            hoverinfo='skip'))
    x0, x1, y0, y1 = p['box']
    layout['xaxis' + sfx] = dict(
        domain=[px(x0), px(x1)], anchor=ya, type='log', range=[0.48, 3.49], automargin=False,
        showline=True, linewidth=3, linecolor='black', mirror=False, showgrid=False, zeroline=False,
        ticks='inside', ticklen=10, tickwidth=2, tickcolor='black',
        tickmode='array', tickvals=[10, 100, 1000],
        ticktext=['10<sup>1</sup>', '10<sup>2</sup>', '10<sup>3</sup>'],
        tickfont=dict(family=SANS, size=24, color='black'),
        minor=dict(ticks='inside', ticklen=5, tickwidth=1.5, tickcolor='black',
                   tickmode='array', tickvals=x_minor_vals, showgrid=False))
    tv, tt = p['ticks']
    layout['yaxis' + sfx] = dict(
        domain=[py(y1), py(y0)], anchor=xa, range=p['yr'], automargin=False,
        showline=True, linewidth=3, linecolor='black', mirror=False, showgrid=False, zeroline=False,
        ticks='inside', ticklen=10, tickwidth=2, tickcolor='black',
        tickmode='array', tickvals=tv, ticktext=tt, ticklabelstandoff=6,
        tickfont=dict(family=SANS, size=21, color='black'),
        minor=dict(ticks='inside', ticklen=5, tickwidth=1.5, tickcolor='black',
                   tickmode='linear', tick0=0, dtick=p['minor'], showgrid=False))
    lx, ly = p['leg']
    layout[lg] = dict(x=px(lx), y=py(ly), xanchor='left', yanchor='top', bgcolor='rgba(0,0,0,0)',
                      borderwidth=0, itemwidth=82, tracegroupgap=0, itemsizing='trace',
                      font=dict(family=SANS, size=15.5, color='black', weight='bold'))
    tx, tyy, tsz = p['title']
    annotations.append(dict(text='<b>' + titles[i - 1] + '</b>', x=px(tx), y=py(tyy), xref='paper', yref='paper',
                            xanchor='left', yanchor='middle', showarrow=False,
                            font=dict(family=SANS, size=tsz, color='black')))
    lx2, ly2 = p['yl']
    annotations.append(dict(text=ylabel, x=px(lx2), y=py(ly2), xref='paper', yref='paper', textangle=-90,
                            xanchor='center', yanchor='middle', showarrow=False,
                            font=dict(family=SANS, size=26, color='black')))
    ypx, ypy = p['yp']
    annotations.append(dict(text='<b>y<sup>+</sup></b>', x=px(ypx), y=py(ypy), xref='paper', yref='paper',
                            xanchor='center', yanchor='middle', showarrow=False,
                            font=dict(family=SANS, size=28, color='black')))
    cx, cy = p['cap']
    annotations.append(dict(text=captions[i - 1], x=px(cx), y=py(cy), xref='paper', yref='paper',
                            xanchor='center', yanchor='middle', showarrow=False,
                            font=dict(family=SERIF, size=23, color='black')))

layout['annotations'] = annotations
fig.update_layout(**layout)
fig.write_html("out.html")
